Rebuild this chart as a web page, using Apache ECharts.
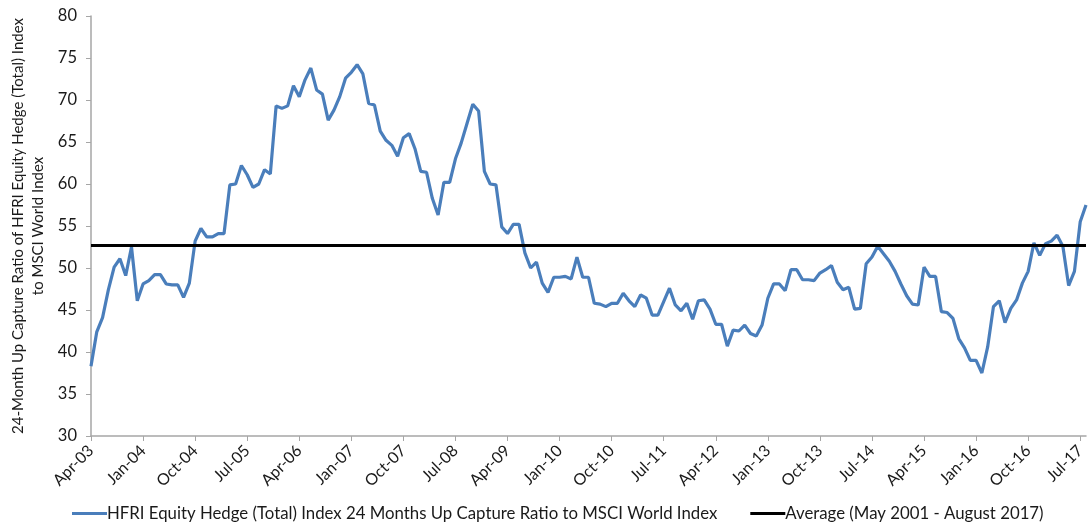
<!DOCTYPE html>
<html>
<head>
<meta charset="utf-8">
<script src="https://cdn.jsdelivr.net/npm/echarts@6/dist/echarts.min.js"></script>
<style>
html,body{margin:0;padding:0;background:#fff;}
#chart{width:1088px;height:524px;}
</style>
</head>
<body>
<div id="chart"></div>
<script>
const MONTHS = ['Jan','Feb','Mar','Apr','May','Jun','Jul','Aug','Sep','Oct','Nov','Dec'];
const START_YEAR = 2003, START_MONTH = 3, N_MONTHS = 173; // Apr-03 .. Aug-17
const categories = [];
for (let i = 0; i < N_MONTHS; i++) {
  const m = (START_MONTH + i) % 12;
  const y = START_YEAR + Math.floor((START_MONTH + i) / 12);
  categories.push(MONTHS[m] + '-' + String(y % 100).padStart(2, '0'));
}

const seriesName = 'HFRI Equity Hedge (Total) Index 24 Months Up Capture Ratio to MSCI World Index';
const avgName = 'Average (May 2001 - August 2017)';

const upCapture = [
  38.3,42.4,44.1,47.4,50.1,51.1,49.1,52.5,46.1,48.1,48.5,49.2,49.2,48.1,48.0,48.0,46.5,48.2,53.2,54.7,
  53.7,53.7,54.1,54.1,59.9,60.0,62.2,61.1,59.6,60.0,61.7,61.2,69.3,69.0,69.3,71.7,70.4,72.4,73.8,71.2,
  70.7,67.6,68.8,70.4,72.6,73.3,74.2,73.1,69.6,69.4,66.3,65.2,64.6,63.3,65.5,66.0,64.2,61.5,61.4,58.3,
  56.3,60.2,60.2,63.0,64.9,67.2,69.5,68.7,61.5,60.0,59.9,54.9,54.1,55.2,55.2,51.8,50.0,50.7,48.2,47.1,
  48.9,48.9,49.0,48.7,51.3,48.9,48.9,45.8,45.7,45.4,45.8,45.8,47.0,46.1,45.4,46.8,46.4,44.4,44.4,46.0,
  47.6,45.6,44.9,45.8,43.9,46.1,46.2,45.1,43.3,43.3,40.7,42.6,42.5,43.2,42.2,41.9,43.2,46.4,48.1,48.1,
  47.3,49.8,49.8,48.6,48.6,48.5,49.4,49.8,50.3,48.3,47.4,47.7,45.1,45.2,50.5,51.3,52.6,51.7,50.8,49.6,
  48.1,46.7,45.7,45.6,50.1,49.0,49.0,44.8,44.7,44.0,41.6,40.5,39.0,39.0,37.5,40.6,45.4,46.1,43.5,45.2,
  46.2,48.2,49.6,53.0,51.5,52.9,53.2,53.9,52.6,47.9,49.6,55.5,57.5
];
const averageValue = 52.7;

const yTicks = { min: 30, max: 80, interval: 5 };
const yTitle = ['24-Month Up Capture Ratio of HFRI Equity Hedge (Total) Index', 'to MSCI World Index'];

const FONT = 'Lato, "Liberation Sans", sans-serif';
const chart = echarts.init(document.getElementById('chart'), null, {renderer: 'canvas'});
chart.setOption({
  animation: false,
  backgroundColor: '#fff',
  grid: { left: 91, right: -3, top: 16, bottom: 88, containLabel: false },
  xAxis: {
    type: 'category',
    data: categories,
    boundaryGap: false,
    axisLine: { lineStyle: { color: '#a6a6a6', width: 1.5 } },
    axisTick: { interval: 8, length: 5, lineStyle: { color: '#a6a6a6' } },
    axisLabel: { interval: 8, rotate: 45, color: '#1a1a1a', fontFamily: FONT, fontSize: 16, margin: 12 },
    splitLine: { show: false }
  },
  yAxis: {
    type: 'value',
    min: yTicks.min, max: yTicks.max, interval: yTicks.interval,
    axisLine: { show: true, lineStyle: { color: '#a6a6a6', width: 1.5 } },
    axisTick: { show: true, length: 5, lineStyle: { color: '#a6a6a6' } },
    axisLabel: { color: '#1a1a1a', fontFamily: FONT, fontSize: 16.5, margin: 14 },
    splitLine: { show: false }
  },
  legend: {
    top: 505,
    left: 72,
    padding: 0,
    itemGap: 33,
    itemWidth: 35,
    itemHeight: 3,
    textStyle: { fontFamily: FONT, fontSize: 16.8, color: '#1a1a1a', padding: [0,0,0,-5] },
    data: [
      { name: seriesName, icon: 'rect' },
      { name: avgName, icon: 'rect' }
    ]
  },
  graphic: [
    { type: 'text', x: 18, y: 226, rotation: Math.PI/2,
      style: { text: yTitle[0], fontFamily: FONT, fontSize: 15, fill: '#1a1a1a', align: 'center', verticalAlign: 'middle' } },
    { type: 'text', x: 38, y: 226, rotation: Math.PI/2,
      style: { text: yTitle[1], fontFamily: FONT, fontSize: 15, fill: '#1a1a1a', align: 'center', verticalAlign: 'middle' } }
  ],
  series: [
    {
      name: seriesName,
      type: 'line',
      data: upCapture,
      symbol: 'none',
      z: 3,
      color: '#4a7ebb',
      lineStyle: { color: '#4a7ebb', width: 3.2 }
    },
    {
      name: avgName,
      type: 'line',
      data: [],
      symbol: 'none',
      color: '#000',
      lineStyle: { color: '#000', width: 3 },
      markLine: {
        silent: true,
        symbol: 'none',
        label: { show: false },
        lineStyle: { color: '#000', width: 3, type: 'solid' },
        data: [{ yAxis: averageValue }]
      }
    }
  ]
});
</script>
</body>
</html>
